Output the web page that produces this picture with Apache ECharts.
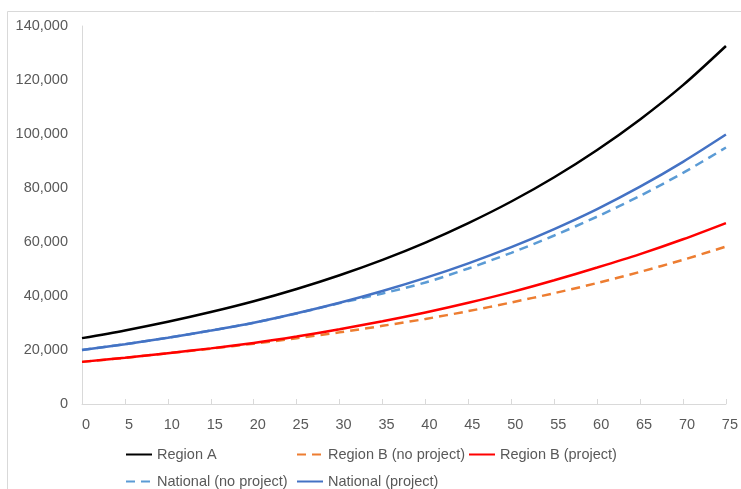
<!DOCTYPE html>
<html>
<head>
<meta charset="utf-8">
<script src="https://cdn.jsdelivr.net/npm/echarts@6/dist/echarts.min.js"></script>
<style>
html,body{margin:0;padding:0;background:#fff;}
#chart{width:741px;height:489px;}
</style>
</head>
<body>
<div id="chart"></div>
<script>
const years = [0,5,10,15,20,25,30,35,40,45,50,55,60,65,70,75];
const regionA = [24400,27250,30450,34050,38050,42600,47700,53400,59800,67000,75000,84000,94100,105400,118100,132600];
const regionBNoProject = [15600,17100,18800,20500,22350,24350,26550,28950,31500,34400,37600,41050,44800,48950,53400,58300];
const regionBProject = [15600,17100,18800,20600,22600,25000,27700,30650,33900,37500,41450,45850,50550,55500,61000,67000];
const nationalNoProject = [20000,22150,24550,27200,30100,33550,37350,40950,45000,50200,56000,62400,69400,77100,85600,95000];
const nationalProject = [20000,22150,24550,27200,30100,33600,37500,41850,46700,52100,58100,64800,72200,80500,89700,99800];
const yTicks = [0,20000,40000,60000,80000,100000,120000,140000];

const FONT = 'Liberation Sans, Arial, sans-serif';
const GRAY = '#595959';

function pairs(vals){ return years.map((y,i)=>[y, vals[i]]); }

const seriesDefs = [
  {name:'Region A', data:regionA, color:'#000000', type:'solid'},
  {name:'Region B (no project)', data:regionBNoProject, color:'#ED7D31', type:[9,6]},
  {name:'Region B (project)', data:regionBProject, color:'#FF0000', type:'solid'},
  {name:'National (no project)', data:nationalNoProject, color:'#5B9BD5', type:[9,6]},
  {name:'National (project)', data:nationalProject, color:'#4472C4', type:'solid'}
];

const legendPos = [
  {left:125, top:447},
  {left:296, top:447},
  {left:468, top:447},
  {left:125, top:474},
  {left:296, top:474}
];

const chart = echarts.init(document.getElementById('chart'), null, {renderer:'canvas'});
chart.setOption({
  animation:false,
  backgroundColor:'#ffffff',
  graphic:[{
    type:'rect',
    shape:{x:7.5, y:11.5, width:900, height:700},
    style:{fill:'none', stroke:'#d9d9d9', lineWidth:1},
    silent:true
  }],
  grid:{left:82, right:10, top:26, bottom:85, containLabel:false},
  xAxis:{
    type:'value', min:0, max:75, interval:5,
    axisLine:{show:true, lineStyle:{color:'#d9d9d9', width:1}},
    axisTick:{show:true, inside:true, length:5, lineStyle:{color:'#d9d9d9'}},
    splitLine:{show:false},
    axisLabel:{color:GRAY, fontFamily:FONT, fontSize:14.5, margin:13, padding:[0,0,0,8]}
  },
  yAxis:{
    type:'value', min:yTicks[0], max:yTicks[yTicks.length-1], interval:20000,
    axisLine:{show:true, lineStyle:{color:'#d9d9d9', width:1}},
    axisTick:{show:false},
    splitLine:{show:false},
    axisLabel:{color:GRAY, fontFamily:FONT, fontSize:14.5, margin:14,
      formatter:v=>v.toLocaleString('en-US')}
  },
  legend: seriesDefs.map((s,i)=>({
    data:[s.name], left:legendPos[i].left, top:legendPos[i].top,
    padding:0, itemWidth:26, itemHeight:14, itemGap:0,
    itemStyle:{opacity:0},
    textStyle:{color:GRAY, fontFamily:FONT, fontSize:14.5}
  })),
  series: seriesDefs.map(s=>({
    name:s.name, type:'line', data:pairs(s.data), smooth:0.3,
    symbol:'none', showSymbol:false,
    lineStyle:{color:s.color, width:2.5, type:s.type},
    itemStyle:{color:s.color},
    z: s.type==='solid'?3:2
  }))
});
</script>
</body>
</html>
